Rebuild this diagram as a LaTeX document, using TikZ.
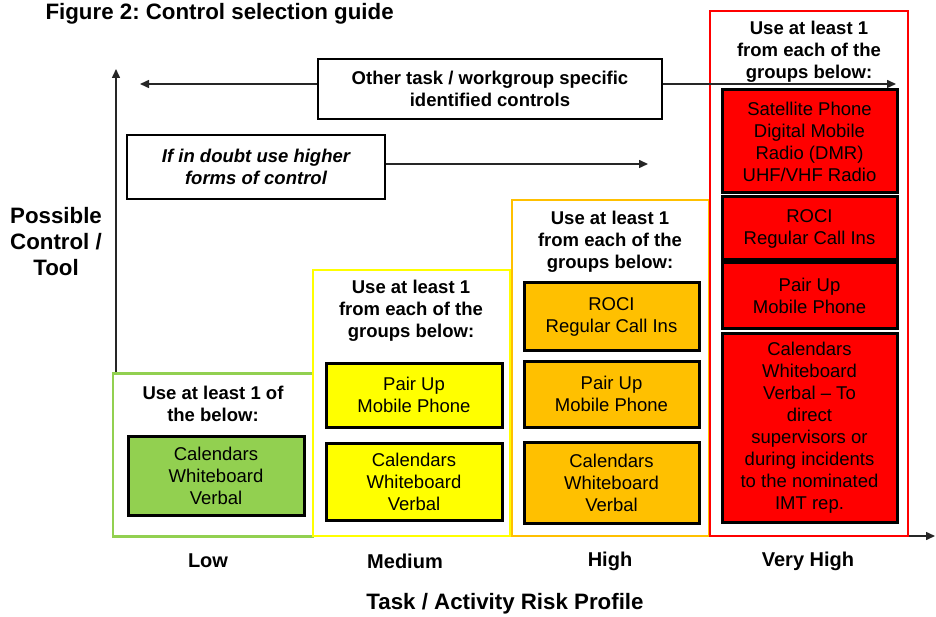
\documentclass[tikz,border=0pt]{standalone}
\usepackage{fontspec}
\setmainfont{Liberation Sans}
\usetikzlibrary{arrows.meta,positioning}
\frenchspacing

\definecolor{lowgreen}{HTML}{92D050}
\definecolor{medyellow}{HTML}{FFFF00}
\definecolor{highorange}{HTML}{FFC000}
\definecolor{vhighred}{HTML}{FF0000}

\newcommand{\boxfont}{\fontsize{18.5}{22}\selectfont}
\newcommand{\bigfont}{\bfseries\fontsize{22.3}{26}\selectfont}

\tikzset{
  band/.style={draw=#1, line width=2.5pt, fill=white, inner sep=0pt},
  head/.style={align=center, font=\bfseries\boxfont},
  ctrl/.style={draw, line width=3pt, fill=#1, align=center, font=\boxfont,
    minimum width=175pt, inner sep=0pt},
  note/.style={draw, line width=1.2pt, fill=white, align=center, inner sep=0pt},
  axis/.style={line width=1.5pt, black!85},
  riskname/.style={font=\bfseries\fontsize{20}{24}\selectfont}
}

\begin{document}
\begin{tikzpicture}[x=1pt,y=-1pt,>={Triangle[length=9pt,width=8pt]}]
\useasboundingbox (0,0) rectangle (936,617);

\node[anchor=west, font=\bigfont] (title) at (42,14) {Figure 2: Control selection guide};

% axes
\coordinate (origin) at (116,536);
\coordinate (ytop) at (116,69);
\coordinate (xend) at (935,536);
\draw[axis,->] (origin) -- (ytop);
\draw[axis,->] (origin) -- (xend);
\node[align=center, font=\bigfont] (ylab) at (56,242) {Possible\\Control /\\Tool};
\node[font=\bigfont] (xlab) at (505,604) {Task / Activity Risk Profile};

% risk bands
\node[band=lowgreen, minimum width=200pt, minimum height=163pt] (low) at (213,455) {};
\node[band=medyellow, minimum width=197pt, minimum height=266pt] (med) at (411.5,403) {};
\node[band=highorange, minimum width=197pt, minimum height=336pt] (high) at (610.5,368) {};
\node[band=vhighred, minimum width=198pt, minimum height=525pt] (vhigh) at (809,273.5) {};

\node[riskname] (lowlab) at (208,561) {Low};
\node[riskname] (medlab) at (405,561) {Medium};
\node[riskname] (highlab) at (610,561) {High};
\node[riskname] (vhighlab) at (808,561) {Very High};

% low
\node[head] (lowhead) at (213,404) {Use at least 1 of\\the below:};
\node[ctrl=lowgreen, minimum width=176pt, minimum height=79pt] (lowcal) at (216,475.5) {Calendars\\Whiteboard\\Verbal};

% medium
\node[head] (medhead) at (411,311) {Use at least 1\\from each of the\\groups below:};
\node[ctrl=medyellow, minimum width=176pt, minimum height=64pt] (medpair) at (414,395) {Pair Up\\Mobile Phone};
\node[ctrl=medyellow, minimum width=176pt, minimum height=77pt] (medcal) at (414,481.5) {Calendars\\Whiteboard\\Verbal};

% high
\node[head] (highhead) at (610,242) {Use at least 1\\from each of the\\groups below:};
\node[ctrl=highorange, minimum height=67pt] (highroci) at (611.5,316.5) {ROCI\\Regular Call Ins};
\node[ctrl=highorange, minimum height=66pt] (highpair) at (611.5,394) {Pair Up\\Mobile Phone};
\node[ctrl=highorange, minimum height=81pt] (highcal) at (611.5,482.5) {Calendars\\Whiteboard\\Verbal};

% very high
\node[head] (vhighhead) at (809,52) {Use at least 1\\from each of the\\groups below:};
\node[ctrl=vhighred, minimum height=103pt] (vhighsat) at (809.5,141.5) {Satellite Phone\\Digital Mobile\\Radio (DMR)\\UHF/VHF Radio};
\node[ctrl=vhighred, minimum height=63pt] (vhighroci) at (809.5,228.5) {ROCI\\Regular Call Ins};
\node[ctrl=vhighred, minimum height=65pt] (vhighpair) at (809.5,295.5) {Pair Up\\Mobile Phone};
\node[ctrl=vhighred, minimum height=189pt] (vhighcal) at (809.5,427.5) {Calendars\\Whiteboard\\Verbal -- To\\direct\\supervisors or\\during incidents\\to the nominated\\IMT rep.};

% notes
\node[note, font=\bfseries\boxfont, minimum width=344pt, minimum height=60pt] (other) at (490,89) {Other task / workgroup specific\\identified controls};
\node[note, font=\bfseries\itshape\boxfont, minimum width=258pt, minimum height=64pt] (doubt) at (256,167) {If in doubt use higher\\forms of control};

\coordinate (otherL) at (140,84);
\coordinate (otherR) at (896,84);
\coordinate (doubtR) at (648,164);
\draw[axis,->] (other.west |- otherL) -- (otherL);
\draw[axis,->] (other.east |- otherR) -- (otherR);
\draw[axis,->] (doubt.east |- doubtR) -- (doubtR);
\end{tikzpicture}
\end{document}
